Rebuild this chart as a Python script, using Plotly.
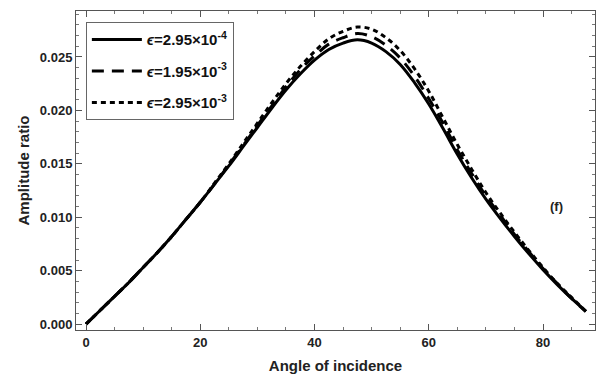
import plotly.graph_objects as go

angles = [0, 2.5, 5, 7.5, 10, 12.5, 15, 17.5, 20, 22.5, 25, 27.5, 30, 32.5, 35, 37.5, 40, 42.5,
          45, 47.5, 50, 52.5, 55, 57.5, 60, 62.5, 65, 67.5, 70, 72.5, 75, 77.5, 80, 82.5, 85, 87.5]
ratio_a = [0, 0.0013, 0.0026, 0.0039, 0.0053, 0.0067, 0.0082, 0.0098, 0.0114, 0.0131, 0.0148, 0.0166,
           0.0184, 0.0202, 0.0219, 0.0234, 0.0247, 0.0257, 0.0263, 0.0266, 0.0263, 0.0255, 0.0243, 0.0226,
           0.0206, 0.0183, 0.0159, 0.0137, 0.0117, 0.0099, 0.0082, 0.0066, 0.0051, 0.0037, 0.0024, 0.0012]
ratio_b = [0, 0.0013, 0.0026, 0.0039, 0.0053, 0.0067, 0.0082, 0.0098, 0.0114, 0.0131, 0.0149, 0.0167,
           0.0186, 0.0204, 0.0222, 0.0238, 0.0251, 0.0262, 0.0268, 0.0272, 0.0269, 0.0261, 0.0249, 0.0232,
           0.0211, 0.0188, 0.0163, 0.0141, 0.0120, 0.0102, 0.0084, 0.0068, 0.0052, 0.0038, 0.0024, 0.0012]
ratio_c = [0, 0.0013, 0.0026, 0.0039, 0.0053, 0.0067, 0.0082, 0.0098, 0.0114, 0.0132, 0.0150, 0.0169,
           0.0188, 0.0207, 0.0225, 0.0241, 0.0255, 0.0267, 0.0274, 0.0278, 0.0276, 0.0268, 0.0256, 0.0239,
           0.0218, 0.0193, 0.0168, 0.0145, 0.0123, 0.0104, 0.0086, 0.0069, 0.0053, 0.0038, 0.0025, 0.0012]
labels = ["<b><i>ϵ</i>=2.95×10<sup>-4</sup></b>",
          "<b><i>ϵ</i>=1.95×10<sup>-3</sup></b>",
          "<b><i>ϵ</i>=2.95×10<sup>-3</sup></b>"]
x_ticks = [0, 20, 40, 60, 80]
x_ticktext = ["<b>0</b>", "<b>20</b>", "<b>40</b>", "<b>60</b>", "<b>80</b>"]
y_ticks = [0.000, 0.005, 0.010, 0.015, 0.020, 0.025]
y_ticktext = ["<b>0.000</b>", "<b>0.005</b>", "<b>0.010</b>", "<b>0.015</b>", "<b>0.020</b>", "<b>0.025</b>"]

FONT = "Liberation Sans, Arial, sans-serif"
fig = go.Figure()
dashes = ["solid", "12px,8px", "5px,4px"]
for i, (ys, lab) in enumerate(zip([ratio_a, ratio_b, ratio_c], labels)):
    fig.add_trace(go.Scatter(x=angles, y=ys, mode="lines", name=lab, legendgroup=str(i),
                             line=dict(color="black", width=3, dash=dashes[i], shape="spline", smoothing=1)))

axis_common = dict(showline=True, linecolor="#555", linewidth=1, mirror="ticks",
                   ticks="inside", ticklen=6, tickcolor="#555", showgrid=False, zeroline=False,
                   tickfont=dict(family=FONT, size=13, color="#222"))
fig.update_xaxes(range=[-1.75, 89.1], tickvals=x_ticks, ticktext=x_ticktext,
                 minor=dict(ticks="inside", dtick=5, ticklen=3, tickcolor="#777"),
                 title=dict(text="<b>Angle of incidence</b>", font=dict(family=FONT, size=15, color="#222"), standoff=11),
                 **axis_common)
fig.update_yaxes(range=[-0.00055, 0.0293], tickvals=y_ticks, ticktext=y_ticktext,
                 minor=dict(ticks="inside", dtick=0.001, ticklen=3, tickcolor="#777"),
                 title=dict(text="<b>Amplitude ratio</b>", font=dict(family=FONT, size=15, color="#222"), standoff=6),
                 **axis_common)
fig.add_annotation(x=82.4, y=0.011, text="<b>(f)</b>", showarrow=False,
                   font=dict(family=FONT, size=13, color="#222"))
fig.update_layout(width=605, height=380, margin=dict(l=76, r=9, t=11, b=47),
                  plot_bgcolor="white", paper_bgcolor="white",
                  legend=dict(x=0.019, y=0.965, xanchor="left", yanchor="top",
                              bordercolor="#666", borderwidth=1, bgcolor="white", itemwidth=50,
                              font=dict(family=FONT, size=15, color="#111"), tracegroupgap=9))
fig.write_html("out.html")
